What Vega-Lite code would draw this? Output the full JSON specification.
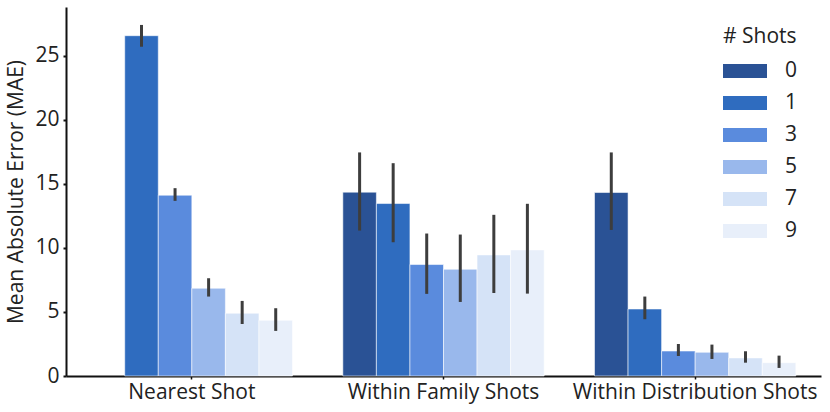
{
  "$schema": "https://vega.github.io/schema/vega-lite/v6.json",
  "width": 755,
  "height": 369,
  "autosize": {"type": "none"},
  "padding": {"left": 66, "top": 7, "right": 9, "bottom": 36},
  "background": "white",
  "config": {
    "font": "Open Sans",
    "view": {"stroke": null},
    "axis": {"grid": false, "domainColor": "#111", "domainWidth": 2, "tickColor": "#111", "labelColor": "#222", "titleColor": "#222", "labelFont": "Open Sans", "titleFont": "Open Sans"},
    "legend": {"labelFont": "Open Sans", "titleFont": "Open Sans"}
  },
  "data": {
    "values": [
      {"group": "Nearest Shot", "shots": "1", "mae": 26.56, "lo": 25.7, "hi": 27.4},
      {"group": "Nearest Shot", "shots": "3", "mae": 14.11, "lo": 13.67, "hi": 14.66},
      {"group": "Nearest Shot", "shots": "5", "mae": 6.85, "lo": 6.2, "hi": 7.63},
      {"group": "Nearest Shot", "shots": "7", "mae": 4.9, "lo": 4.06, "hi": 5.86},
      {"group": "Nearest Shot", "shots": "9", "mae": 4.35, "lo": 3.52, "hi": 5.29},
      {"group": "Within Family Shots", "shots": "0", "mae": 14.35, "lo": 11.35, "hi": 17.45},
      {"group": "Within Family Shots", "shots": "1", "mae": 13.46, "lo": 10.44, "hi": 16.61},
      {"group": "Within Family Shots", "shots": "3", "mae": 8.7, "lo": 6.41, "hi": 11.12},
      {"group": "Within Family Shots", "shots": "5", "mae": 8.33, "lo": 5.78, "hi": 11.04},
      {"group": "Within Family Shots", "shots": "7", "mae": 9.45, "lo": 6.48, "hi": 12.58},
      {"group": "Within Family Shots", "shots": "9", "mae": 9.84, "lo": 6.43, "hi": 13.44},
      {"group": "Within Distribution Shots", "shots": "0", "mae": 14.32, "lo": 11.4, "hi": 17.45},
      {"group": "Within Distribution Shots", "shots": "1", "mae": 5.23, "lo": 4.43, "hi": 6.2},
      {"group": "Within Distribution Shots", "shots": "3", "mae": 1.95, "lo": 1.56, "hi": 2.5},
      {"group": "Within Distribution Shots", "shots": "5", "mae": 1.85, "lo": 1.33, "hi": 2.45},
      {"group": "Within Distribution Shots", "shots": "7", "mae": 1.41, "lo": 1.04, "hi": 1.93},
      {"group": "Within Distribution Shots", "shots": "9", "mae": 1.04, "lo": 0.63, "hi": 1.59}
    ]
  },
  "encoding": {
    "x": {
      "field": "group", "type": "nominal",
      "sort": ["Nearest Shot", "Within Family Shots", "Within Distribution Shots"],
      "scale": {"paddingInner": 0.2, "paddingOuter": 0.1},
      "axis": {"title": null, "labelAngle": 0, "labelFontSize": 21, "labelPadding": 2, "labelLimit": 0, "tickSize": 3, "tickWidth": 1.5}
    },
    "xOffset": {
      "field": "shots", "type": "nominal",
      "scale": {"domain": ["0", "1", "3", "5", "7", "9"], "paddingInner": 0, "paddingOuter": 0}
    }
  },
  "layer": [
    {
      "mark": {"type": "bar", "stroke": "white", "strokeWidth": 1, "strokeOpacity": 0.55},
      "encoding": {
        "y": {
          "field": "mae", "type": "quantitative",
          "scale": {"domain": [0, 28.8], "nice": false},
          "axis": {"title": "Mean Absolute Error (MAE)", "titleFontSize": 21, "titleFontWeight": "normal", "titlePadding": 8, "labelFontSize": 21, "values": [0, 5, 10, 15, 20, 25], "tickSize": 3, "tickWidth": 2, "labelPadding": 4}
        },
        "color": {
          "field": "shots", "type": "nominal",
          "scale": {"domain": ["0", "1", "3", "5", "7", "9"], "range": ["#2a5295", "#2f6cbf", "#5a8bdd", "#99b8ec", "#d5e3f7", "#e8effa"]},
          "legend": {
            "title": "# Shots", "orient": "none", "legendX": 657, "legendY": 19,
            "titleFontSize": 21, "titleFontWeight": "normal", "titleColor": "#222", "titlePadding": 2,
            "labelFontSize": 21, "labelColor": "#222", "labelOffset": 18,
            "symbolType": "M-1,-0.318H1V0.318H-1Z", "symbolSize": 1936, "symbolStrokeWidth": 0, "symbolOpacity": 1,
            "rowPadding": 0
          }
        }
      }
    },
    {
      "mark": {"type": "rule", "color": "#3d3d3d", "strokeWidth": 3},
      "encoding": {
        "y": {"field": "lo", "type": "quantitative"},
        "y2": {"field": "hi"}
      }
    }
  ]
}
